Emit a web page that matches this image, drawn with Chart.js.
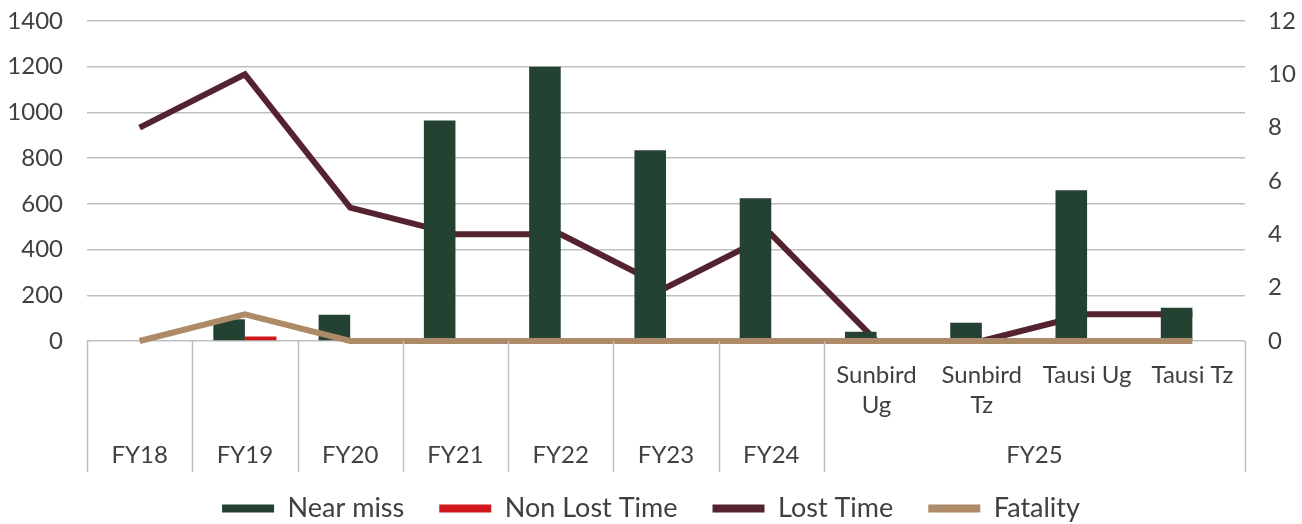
<!DOCTYPE html>
<html>
<head>
<meta charset="utf-8">
<script src="https://cdn.jsdelivr.net/npm/chart.js@4/dist/chart.umd.min.js"></script>
<style>
  html, body { margin: 0; padding: 0; background: #fff; }
  #wrap { width: 1302px; height: 524px; }
</style>
</head>
<body>
<div id="wrap"><canvas id="chart"></canvas></div>
<script>
// categories (bottom row is the fiscal year, top row the site inside FY25)
const categories = ['FY18', 'FY19', 'FY20', 'FY21', 'FY22', 'FY23', 'FY24', 'Sunbird Ug', 'Sunbird Tz', 'Tausi Ug', 'Tausi Tz'];
const subLabels = ['', '', '', '', '', '', '', ['Sunbird', 'Ug'], ['Sunbird', 'Tz'], 'Tausi Ug', 'Tausi Tz'];
const groupLabels = ['FY18', 'FY19', 'FY20', 'FY21', 'FY22', 'FY23', 'FY24', 'FY25'];
const groupSizes = [1, 1, 1, 1, 1, 1, 1, 4];

// series
const nearMiss = [0, 95, 115, 965, 1200, 835, 625, 40, 80, 660, 145];
const nonLostTime = [0, 20, 0, 0, 0, 0, 0, 0, 0, 0, 0];
const lostTime = [8, 10, 5, 4, 4, 2, 4, 0, 0, 1, 1];
const fatality = [0, 1, 0, 0, 0, 0, 0, 0, 0, 0, 0];

const leftTicks = [0, 200, 400, 600, 800, 1000, 1200, 1400];
const rightTicks = [0, 2, 4, 6, 8, 10, 12];

const FONT = "Lato, 'Open Sans', sans-serif";
const TEXT = '#404040';
const GRID = '#bfbfbf';

// group centres / edges in category units
let groupCenters = [];
let groupEdges = [-0.5];
let start = 0;
groupSizes.forEach(n => {
    groupCenters.push(start + (n - 1) / 2);
    start += n;
    groupEdges.push(start - 0.5);
});

// vertical separators of the category table under the plot
const separators = {
    id: 'separators',
    afterDraw(chart) {
        const x = chart.scales.x;
        const ctx = chart.ctx;
        const top = chart.chartArea.bottom;
        const bottom = top + 131;
        ctx.save();
        ctx.strokeStyle = GRID;
        ctx.lineWidth = 1.5;
        groupEdges.forEach(v => {
            const px = Math.round(x.getPixelForValue(v)) + 0.5;
            ctx.beginPath();
            ctx.moveTo(px, top);
            ctx.lineTo(px, bottom);
            ctx.stroke();
        });
        ctx.restore();
    }
};

const chart = new Chart(document.getElementById('chart').getContext('2d'), {
    type: 'bar',
    data: {
        labels: subLabels,
        datasets: [
            {
                label: 'Near miss',
                data: nearMiss,
                backgroundColor: '#244232',
                yAxisID: 'y',
                order: 1
            },
            {
                label: 'Non Lost Time',
                data: nonLostTime,
                backgroundColor: '#d0171b',
                yAxisID: 'y',
                order: 2
            },
            {
                type: 'line',
                label: 'Lost Time',
                data: lostTime,
                borderColor: '#55222f',
                backgroundColor: '#55222f',
                borderWidth: 6,
                pointRadius: 0,
                tension: 0,
                clip: false,
                yAxisID: 'y1',
                order: 3
            },
            {
                type: 'line',
                label: 'Fatality',
                data: fatality,
                borderColor: '#ad8a68',
                backgroundColor: '#ad8a68',
                borderWidth: 6,
                pointRadius: 0,
                tension: 0,
                clip: false,
                yAxisID: 'y1',
                order: 0
            }
        ]
    },
    options: {
        responsive: true,
        maintainAspectRatio: false,
        animation: false,
        layout: { padding: { top: 21, left: 0, right: 0, bottom: -8 } },
        datasets: {
            bar: { categoryPercentage: 0.6, barPercentage: 1 }
        },
        plugins: {
            tooltip: { enabled: false },
            legend: {
                position: 'bottom',
                labels: {
                    color: TEXT,
                    font: { family: FONT, size: 27 },
                    boxWidth: 52,
                    boxHeight: 8,
                    padding: 35,
                    sort: (a, b) => a.datasetIndex - b.datasetIndex,
                    generateLabels: (c) => c.data.datasets.map((ds, i) => ({
                        text: ds.label,
                        fillStyle: ds.type === 'line' ? ds.borderColor : ds.backgroundColor,
                        strokeStyle: 'transparent',
                        lineWidth: 0,
                        fontColor: TEXT,
                        hidden: false,
                        datasetIndex: i
                    }))
                }
            }
        },
        scales: {
            x: {
                type: 'category',
                position: 'bottom',
                grid: { display: false, drawTicks: false },
                border: { display: false },
                ticks: {
                    color: TEXT,
                    font: { family: FONT, size: 24, lineHeight: 1.25 },
                    padding: 19,
                    maxRotation: 0,
                    autoSkip: false
                },
                afterFit: (s) => { s.height = 85; }
            },
            x2: {
                type: 'category',
                position: 'bottom',
                labels: categories,
                offset: true,
                grid: { display: false, drawTicks: false },
                border: { display: false },
                afterBuildTicks: (s) => { s.ticks = groupCenters.map(v => ({ value: v })); },
                ticks: {
                    color: TEXT,
                    font: { family: FONT, size: 24, lineHeight: 1.25 },
                    mirror: true,
                    padding: -44,
                    maxRotation: 0,
                    autoSkip: false,
                    callback: (v, i) => groupLabels[i]
                },
                afterFit: (s) => { s.height = 34; }
            },
            y: {
                position: 'left',
                min: 0,
                max: 1400,
                afterBuildTicks: (s) => { s.ticks = leftTicks.map(v => ({ value: v })); },
                grid: { color: GRID, lineWidth: 1.5, drawTicks: false },
                border: { display: false },
                ticks: {
                    color: TEXT,
                    font: { family: FONT, size: 24 },
                    padding: 24,
                    callback: (v) => String(v)
                },
                afterFit: (s) => { s.width = 87; s.paddingTop = 0; s.paddingBottom = 0; }
            },
            y1: {
                position: 'right',
                min: 0,
                max: 12,
                afterBuildTicks: (s) => { s.ticks = rightTicks.map(v => ({ value: v })); },
                grid: { display: false, drawTicks: false },
                border: { display: false },
                ticks: {
                    color: TEXT,
                    font: { family: FONT, size: 24 },
                    padding: 23,
                    callback: (v) => String(v)
                },
                afterFit: (s) => { s.width = 57; s.paddingTop = 0; s.paddingBottom = 0; }
            }
        }
    },
    plugins: [separators]
});
</script>
</body>
</html>
